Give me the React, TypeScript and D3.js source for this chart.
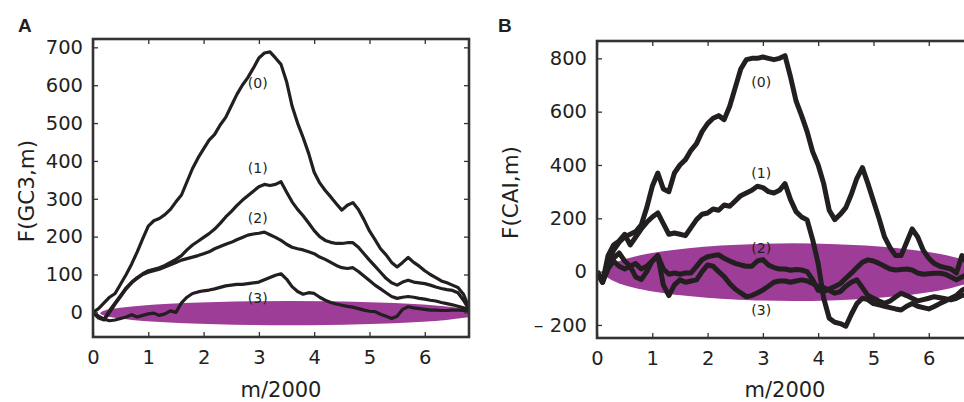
import { useEffect, useRef } from "react";
import * as d3 from "d3";

// m/2000 sample positions shared by every walk
const mPos = [
  0, 0.1, 0.2, 0.3, 0.4, 0.5, 0.6, 0.7, 0.8, 0.9,
  1, 1.1, 1.2, 1.3, 1.4, 1.5, 1.6, 1.7, 1.8, 1.9,
  2, 2.1, 2.2, 2.3, 2.4, 2.5, 2.6, 2.7, 2.8, 2.9,
  3, 3.1, 3.2, 3.3, 3.4, 3.5, 3.6, 3.7, 3.8, 3.9,
  4, 4.1, 4.2, 4.3, 4.4, 4.5, 4.6, 4.7, 4.8, 4.9,
  5, 5.1, 5.2, 5.3, 5.4, 5.5, 5.6, 5.7, 5.8, 5.9,
  6, 6.1, 6.2, 6.3, 6.4, 6.5, 6.6, 6.7, 6.8,
];

// panel A : F(GC3,m)
const gc3_0 = [
  0, 10, 25, 40, 50, 75, 100, 128, 160, 195,
  228, 242, 248, 258, 272, 292, 310, 345, 380, 408,
  432, 455, 470, 495, 515, 545, 575, 600, 620, 645,
  672, 685, 688, 672, 655, 610, 545, 500, 462, 420,
  370, 342, 322, 305, 287, 270, 283, 290, 272, 245,
  215, 192, 168, 152, 132, 120, 132, 145, 132, 122,
  110, 100, 92, 83, 78, 72, 66, 48, 12,
];
const gc3_1 = [
  0, -12, -18, 5, 25, 45, 65, 80, 92, 102,
  110, 114, 118, 124, 132, 140, 150, 165, 178, 188,
  198, 208, 220, 235, 252, 266, 282, 296, 308, 320,
  332, 338, 335, 338, 345, 318, 292, 272, 255, 236,
  216, 200, 190, 185, 182, 182, 184, 184, 172, 155,
  138, 122, 106, 90, 78, 72, 80, 85, 80, 78,
  76, 72, 67, 63, 60, 58, 52, 32, 8,
];
const gc3_2 = [
  0, -15, -20, 0, 22, 42, 62, 78, 90, 100,
  106, 110, 114, 120, 126, 132, 138, 142, 146, 150,
  155, 160, 168, 174, 180, 185, 192, 198, 204, 207,
  209, 212, 205, 198, 190, 180, 172, 168, 165, 160,
  155, 146, 140, 132, 124, 118, 116, 118, 108, 96,
  84, 72, 62, 52, 42, 37, 40, 42, 40, 37,
  35, 32, 30, 26, 23, 20, 16, 12, 8,
];
const gc3_3 = [
  0, -10, -18, -22, -20, -16, -12, -6, -12, -8,
  -4, -2, -8, -4, 4, 0, 25, 40, 50, 54,
  57, 59, 62, 66, 70, 72, 74, 74, 76, 78,
  80, 86, 92, 98, 102, 88, 68, 55, 48, 52,
  50, 40, 32, 26, 22, 19, 16, 14, 10, 6,
  3, 2, -5, -10, -16, -10, 8, 15, 12, 10,
  8, 6, 6, 5, 5, 6, 6, 5, 4,
];

// panel B : F(CAI,m)
const cai_0 = [
  0, -40, 30, 80, 110, 130, 140, 150, 175, 240,
  320, 370, 310, 300, 370, 400, 420, 455, 480, 525,
  555, 575, 585, 570, 620, 690, 760, 795, 800, 800,
  805, 800, 795, 800, 810, 730, 640, 585, 525, 450,
  400, 330, 230, 195, 215, 240, 290, 350, 390, 330,
  265, 200, 130, 90, 60, 60, 110, 160, 130, 80,
  50, 30, 20, 15, 10, -5, 60, 30, 20,
];
const cai_1 = [
  0, -40, 60, 100, 115, 140, 100, 130, 160, 185,
  205, 220, 180, 140, 145, 140, 135, 165, 195, 215,
  220, 235, 230, 250, 245, 265, 285, 295, 305, 320,
  315, 300, 295, 305, 330, 270, 225, 205, 194, 120,
  30, -100, -175, -190, -195, -205, -160, -120, -100, -105,
  -120, -125, -130, -135, -140, -144, -130, -120, -130, -135,
  -140, -131, -120, -110, -100, -90, -70, -60, -55,
];
const cai_2 = [
  0, -40, 10, 40, 20, 10, 20, 30, 10, 20,
  40, 60, 10, -10, -5, -10, -5, -5, 20, 45,
  56, 60, 63, 50, 40, 31, 25, 20, 20, 40,
  45, 25, 15, 10, 10, 5, 8, 6, 0, -30,
  -70, -75, -65, -56, -45, -25, -6, 15, 35, 44,
  40, 31, 20, 10, 6, 8, 10, 6, -5, -10,
  -8, -6, -6, -10, -20, -31, -20, -10, -5,
];
const cai_3 = [
  0, -30, 30, 50, 70, 40, 20, -20, -30, 0,
  40, 60, -50, -90, -50, -31, -40, -35, -31, 0,
  25, 20, 0, -19, -45, -65, -80, -94, -90, -80,
  -69, -55, -40, -35, -35, -40, -35, -31, -35, -45,
  -56, -60, -70, -81, -75, -55, -40, -31, -60, -90,
  -100, -110, -119, -110, -95, -81, -90, -100, -110, -105,
  -100, -94, -98, -102, -106, -100, -90, -85, -80,
];

const curveNames = ["(0)", "(1)", "(2)", "(3)"];
const xTicks = [0, 1, 2, 3, 4, 5, 6];
const gc3Ticks = [0, 100, 200, 300, 400, 500, 600, 700];
const caiTicks = [-200, 0, 200, 400, 600, 800];

// where the name of each walk sits [m/2000, F]
const gc3LabelPos = [[2.98, 605], [2.98, 381], [2.98, 248], [2.98, 37]];
const caiLabelPos = [[2.97, 711], [2.97, 370], [2.97, 89], [2.97, -144]];

// purple envelope: [centre m, centre F, half width m, half height F]
const gc3Band = [3.55, -2, 3.42, 32];
const caiBand = [3.55, -2, 3.42, 108];

const INK = "#231f20";
const FONT = "'DejaVu Sans', Verdana, sans-serif";

function drawPanel(svg, opts) {
  const { left, right, top, bottom, yDomain, yTicks, series, band, labels, lineW, letter, letterX, yTitle, yTitleX, id } = opts;
  const x = d3.scaleLinear().domain([0, 6.8]).range([left, right]);
  const y = d3.scaleLinear().domain(yDomain).range([bottom, top]);

  const g = svg.append("g");

  g.append("clipPath").attr("id", id)
    .append("rect").attr("x", left).attr("y", top).attr("width", right - left).attr("height", bottom - top);

  const plot = g.append("g").attr("clip-path", `url(#${id})`);

  plot.append("ellipse")
    .attr("cx", x(band[0]))
    .attr("cy", y(band[1]))
    .attr("rx", x(band[2]) - x(0))
    .attr("ry", y(0) - y(band[3]))
    .attr("fill", "#9d3d97");

  const line = d3.line().x((d, i) => x(mPos[i])).y(d => y(d));
  series.forEach(s => {
    plot.append("path")
      .attr("d", line(s))
      .attr("fill", "none")
      .attr("stroke", INK)
      .attr("stroke-width", lineW)
      .attr("stroke-linejoin", "round");
  });

  labels.forEach((p, i) => {
    g.append("text")
      .attr("x", x(p[0]))
      .attr("y", y(p[1]) + 5)
      .attr("text-anchor", "middle")
      .attr("font-size", 14)
      .attr("font-family", FONT)
      .attr("fill", INK)
      .text(curveNames[i]);
  });

  // axes, ticks pointing inward on all four sides
  const styleAxis = sel => {
    sel.select(".domain").remove();
    sel.selectAll("line").attr("stroke", "#333").attr("stroke-width", 1.3);
    sel.selectAll("text").attr("font-family", FONT).attr("font-size", 19.5).attr("fill", INK);
  };
  g.append("g").attr("transform", `translate(0,${bottom})`)
    .call(d3.axisBottom(x).tickValues(xTicks).tickSize(-5).tickPadding(13).tickFormat(d3.format("d")))
    .call(styleAxis);
  g.append("g").attr("transform", `translate(0,${top})`)
    .call(d3.axisTop(x).tickValues(xTicks).tickSize(-5).tickFormat(() => ""))
    .call(styleAxis);
  g.append("g").attr("transform", `translate(${left},0)`)
    .call(d3.axisLeft(y).tickValues(yTicks).tickSize(-5).tickPadding(10)
      .tickFormat(d => (d < 0 ? `\u2013 ${Math.abs(d)}` : `${d}`)))
    .call(styleAxis);
  g.append("g").attr("transform", `translate(${right},0)`)
    .call(d3.axisRight(y).tickValues(yTicks).tickSize(-5).tickFormat(() => ""))
    .call(styleAxis);

  g.append("rect")
    .attr("x", left).attr("y", top)
    .attr("width", right - left).attr("height", bottom - top)
    .attr("fill", "none").attr("stroke", "#333").attr("stroke-width", 2.6);

  g.append("text")
    .attr("x", (left + right) / 2).attr("y", 397)
    .attr("text-anchor", "middle")
    .attr("font-family", FONT).attr("font-size", 21).attr("fill", INK)
    .text("m/2000");

  g.append("text")
    .attr("transform", `translate(${yTitleX},${(top + bottom) / 2 + 3}) rotate(-90)`)
    .attr("text-anchor", "middle")
    .attr("font-family", FONT).attr("font-size", 21.5).attr("fill", INK)
    .text(yTitle);

  g.append("text")
    .attr("x", letterX).attr("y", 32)
    .attr("font-family", "'Liberation Sans', Arial, sans-serif").attr("font-size", 19).attr("font-weight", "bold").attr("fill", INK)
    .text(letter);
}

const App = () => {
  const svgRef = useRef(null);

  useEffect(() => {
    const svg = d3.select(svgRef.current);
    svg.selectAll("*").remove();

    drawPanel(svg, {
      id: "clipA", left: 93, right: 469, top: 39, bottom: 337,
      yDomain: [-65, 722], yTicks: gc3Ticks,
      series: [gc3_0, gc3_1, gc3_2, gc3_3], band: gc3Band, labels: gc3LabelPos,
      lineW: 3.2, letter: "A", letterX: 18, yTitle: "F(GC3,m)", yTitleX: 34,
    });
    drawPanel(svg, {
      id: "clipB", left: 597, right: 973, top: 41, bottom: 338,
      yDomain: [-249, 865], yTicks: caiTicks,
      series: [cai_0, cai_1, cai_2, cai_3], band: caiBand, labels: caiLabelPos,
      lineW: 5, letter: "B", letterX: 498, yTitle: "F(CAI,m)", yTitleX: 518,
    });
  }, []);

  return (
    <svg
      ref={svgRef}
      width={964}
      height={402}
      style={{ position: "absolute", left: 0, top: 0, background: "#fff" }}
    />
  );
};

export default App;
